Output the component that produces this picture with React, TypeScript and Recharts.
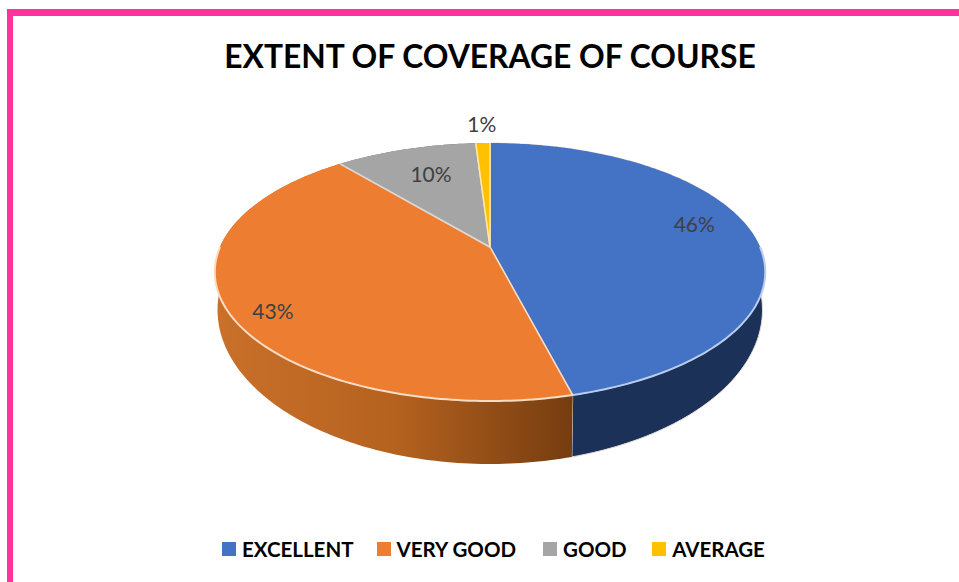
import { Legend, Pie, PieChart } from "recharts";

const CATEGORIES = ["EXCELLENT", "VERY GOOD", "GOOD", "AVERAGE"];
const SHARES = [46, 43, 10, 1];
const COLORS = ["#4472c4", "#ed7d31", "#a5a5a5", "#ffc000"];
const RIM_COLORS = ["#b9cdec", "#fbdcc4", "#d8d8d8", "#ffeaa0"];
const WALL_FILLS = ["#1b3158", "url(#orangeWall)", "#6b6b6b", "#a67c00"];
// how far out from the pie centre each label sits, as a share of the radius
const LABEL_RADIUS = [0.777, 0.836, 0.664, 1.2];
const LABEL_NUDGE_Y = [-12, 13, -5, -3];
const LEGEND_GAPS = [23, 27, 25.5, 0];

const WIDTH = 959;
const HEIGHT = 582;
const PINK = "#ff3399";

// the pie is tilted in perspective: the front half is stretched, the back squeezed
const TILT = -0.194;
const TOP_FACE = { rise: 76.2, dx: 0, dy: 0, scale: 1 };
const BOTTOM_FACE = { rise: 94, dx: 0, dy: 33, scale: 0.99 };

const data = CATEGORIES.map((name, i) => ({ name, value: SHARES[i] }));

type Face = typeof TOP_FACE;

// recharts angle (degrees, counter-clockwise from 3 o'clock) to screen position
function project(cx: number, cy: number, radius: number, angle: number, r: number, face: Face) {
  const rad = (angle * Math.PI) / 180;
  const x = Math.cos(rad) * r;
  const t = -Math.sin(rad) * r;
  const w = 1 + TILT * t;
  return {
    x: cx + face.dx + (radius * face.scale * x) / w,
    y: (face.rise * t + cy + face.dy) / w,
  };
}

function arc(cx: number, cy: number, radius: number, from: number, to: number, face: Face) {
  const steps = Math.max(2, Math.ceil(Math.abs(to - from)));
  const pts = [];
  for (let i = 0; i <= steps; i++) {
    const a = from + ((to - from) * i) / steps;
    const p = project(cx, cy, radius, a, 1, face);
    pts.push(`${p.x.toFixed(2)} ${p.y.toFixed(2)}`);
  }
  return pts;
}

function TopSlice(props: any) {
  const { cx, cy, outerRadius, startAngle, endAngle, index } = props;
  const rim = arc(cx, cy, outerRadius, startAngle, endAngle, TOP_FACE);
  // only the front of the rim catches the light
  const frontFrom = Math.min(startAngle, 0);
  const frontTo = Math.max(endAngle, -180);
  const front = frontFrom > frontTo ? arc(cx, cy, outerRadius, frontFrom, frontTo, TOP_FACE) : null;
  return (
    <g>
      <path d={`M ${cx} ${cy} L ${rim.join(" L ")} Z`} fill={COLORS[index]} />
      <path
        d={`M ${rim[0]} L ${cx} ${cy} L ${rim[rim.length - 1]}`}
        fill="none"
        stroke={RIM_COLORS[index]}
        strokeWidth={1.5}
      />
      {front && <path d={`M ${front.join(" L ")}`} fill="none" stroke={RIM_COLORS[index]} strokeWidth={2} />}
    </g>
  );
}

function WallSlice(props: any) {
  const { cx, cy, outerRadius, startAngle, endAngle, index } = props;
  const top = arc(cx, cy, outerRadius, startAngle, endAngle, TOP_FACE);
  const bottom = arc(cx, cy, outerRadius, endAngle, startAngle, BOTTOM_FACE);
  return (
    <path
      d={`M ${top.join(" L ")} L ${bottom.join(" L ")} Z`}
      fill={WALL_FILLS[index]}
      stroke={index === 0 ? "#e9dfd6" : "none"}
      strokeWidth={index === 0 ? 1 : 0}
    />
  );
}

function SliceLabel(props: any) {
  const { cx, cy, outerRadius, midAngle, index } = props;
  const p = project(cx, cy, outerRadius, midAngle, LABEL_RADIUS[index], TOP_FACE);
  return (
    <text
      x={p.x}
      y={p.y + LABEL_NUDGE_Y[index]}
      fill="#404040"
      fontFamily="Lato"
      fontSize={21}
      textAnchor="middle"
      dominantBaseline="central"
    >
      {SHARES[index]}%
    </text>
  );
}

function LegendRow() {
  return (
    <div style={{ display: "flex", whiteSpace: "nowrap", fontFamily: "Lato", fontWeight: 700, fontSize: 20.5, lineHeight: "24px", color: "#000" }}>
      {CATEGORIES.map((name, i) => (
        <div key={name} style={{ display: "flex", alignItems: "center", marginRight: LEGEND_GAPS[i] }}>
          <span style={{ width: 14, height: 14, marginRight: 6, background: COLORS[i] }} />
          <span>{name}</span>
        </div>
      ))}
    </div>
  );
}

export default function App() {
  return (
    <div style={{ position: "absolute", left: 0, top: 0, width: WIDTH, height: HEIGHT, background: "#fff", overflow: "hidden" }}>
      <div style={{ position: "absolute", left: 7, top: 9, right: 0, height: 6.5, background: PINK }} />
      <div style={{ position: "absolute", left: 7, top: 9, bottom: 0, width: 6, background: PINK }} />
      <div
        style={{
          position: "absolute",
          left: 0,
          width: 980,
          top: 36,
          textAlign: "center",
          fontFamily: "Lato",
          fontWeight: 700,
          fontSize: 31.8,
          lineHeight: "40px",
          color: "#000",
        }}
      >
        EXTENT OF COVERAGE OF COURSE
      </div>
      <PieChart width={WIDTH} height={HEIGHT} margin={{ top: 0, right: 0, bottom: 0, left: 0 }}>
        <defs>
          <linearGradient id="orangeWall" gradientUnits="userSpaceOnUse" x1={218} y1={0} x2={571} y2={0}>
            <stop offset="0" stopColor="#c9702a" />
            <stop offset="0.5" stopColor="#b5621f" />
            <stop offset="1" stopColor="#763d10" />
          </linearGradient>
        </defs>
        <Pie
          data={data}
          dataKey="value"
          nameKey="name"
          cx={490}
          cy={247}
          outerRadius={270}
          startAngle={90}
          endAngle={-270}
          legendType="none"
          shape={WallSlice}
          isAnimationActive={false}
        />
        <Pie
          data={data}
          dataKey="value"
          nameKey="name"
          cx={490}
          cy={247}
          outerRadius={270}
          startAngle={90}
          endAngle={-270}
          shape={TopSlice}
          label={SliceLabel}
          labelLine={false}
          isAnimationActive={false}
        />
        <Legend
          content={LegendRow}
          wrapperStyle={{ position: "absolute", left: 222, top: "auto", bottom: 21, width: 600 }}
        />
      </PieChart>
    </div>
  );
}
